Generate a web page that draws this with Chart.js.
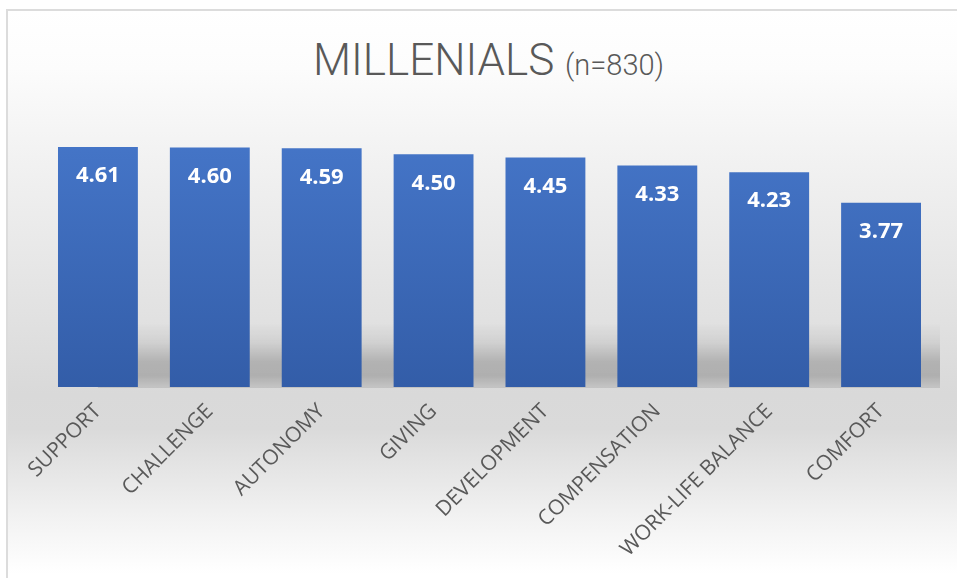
<!DOCTYPE html>
<html>
<head>
<meta charset="utf-8">
<script src="https://cdn.jsdelivr.net/npm/chart.js@4"></script>
<style>
  html, body { margin: 0; padding: 0; background: #fff; }
  #wrap {
    position: relative; width: 957px; height: 578px; overflow: hidden;
  }
  #frame {
    position: absolute; left: 6px; top: 9px; width: 960px; height: 580px;
    border-left: 2px solid #dcdcdc; border-top: 2px solid #dcdcdc;
    background: linear-gradient(to bottom, #ffffff 0%, #fcfcfc 10%, #f2f2f2 25%, #e3e3e3 50%, #d9d9d9 66%, #dadada 72%, #f3f3f3 88%, #ffffff 97%);
  }
  #title {
    position: absolute; left: 10px; top: 35px; width: 957px; text-align: center;
    font-family: Roboto, "Open Sans", sans-serif; font-weight: 300; color: #595959;
    font-size: 44px; line-height: 50px;
  }
  #title span { font-size: 29px; }
  canvas { position: absolute; left: 0; top: 0; }
</style>
</head>
<body>
<div id="wrap">
  <div id="frame"></div>
  <div id="title">MILLENIALS <span>(n=830)</span></div>
  <canvas id="chart" width="957" height="578"></canvas>
</div>
<script>
  // ========== DATA ==========
  const categories = ['SUPPORT', 'CHALLENGE', 'AUTONOMY', 'GIVING', 'DEVELOPMENT', 'COMPENSATION', 'WORK-LIFE BALANCE', 'COMFORT'];
  const scores = [4.61, 4.60, 4.59, 4.50, 4.45, 4.33, 4.23, 3.77];
  const axisMin = 1;
  const axisMax = 5;

  // soft grey shadow behind the bar bases
  const shadowPlugin = {
    id: 'barShadow',
    beforeDatasetsDraw(chart) {
      const bars = chart.getDatasetMeta(0).data;
      const ctx = chart.ctx;
      const bottom = chart.chartArea.bottom;
      const x0 = bars[0].x;
      const x1 = bars[bars.length - 1].x + bars[0].width / 2 + 19;
      const top = bottom - 64;
      const g = ctx.createLinearGradient(0, top, 0, bottom);
      g.addColorStop(0, 'rgba(0,0,0,0)');
      g.addColorStop(0.3, 'rgba(0,0,0,0.06)');
      g.addColorStop(0.6, 'rgba(0,0,0,0.19)');
      g.addColorStop(0.82, 'rgba(0,0,0,0.2)');
      g.addColorStop(1, 'rgba(0,0,0,0.1)');
      ctx.save();
      ctx.fillStyle = g;
      ctx.fillRect(x0, top, x1 - x0, bottom - top + 1);
      ctx.restore();
    }
  };

  // white value labels inside the top of each bar
  const valueLabels = {
    id: 'valueLabels',
    afterDatasetsDraw(chart) {
      const ctx = chart.ctx;
      const bars = chart.getDatasetMeta(0).data;
      ctx.save();
      ctx.fillStyle = '#ffffff';
      ctx.font = 'bold 22px "Open Sans", sans-serif';
      ctx.textAlign = 'center';
      ctx.textBaseline = 'middle';
      bars.forEach((bar, i) => {
        ctx.fillText(scores[i].toFixed(2), bar.x, bar.y + 29);
      });
      ctx.restore();
    }
  };

  const ctx = document.getElementById('chart').getContext('2d');
  new Chart(ctx, {
    type: 'bar',
    data: {
      labels: categories,
      datasets: [{
        data: scores,
        backgroundColor: (c) => {
          const area = c.chart.chartArea;
          if (!area) return '#3f6cbb';
          const g = c.chart.ctx.createLinearGradient(0, area.top, 0, area.bottom);
          g.addColorStop(0, '#4677ca');
          g.addColorStop(1, '#335da8');
          return g;
        },
        borderWidth: 0,
        categoryPercentage: 1,
        barPercentage: 0.714
      }]
    },
    options: {
      responsive: false,
      animation: false,
      layout: { padding: { left: 42, right: 20, top: 121, bottom: 0 } },
      plugins: {
        legend: { display: false },
        tooltip: { enabled: false },
        title: { display: false }
      },
      scales: {
        y: {
          display: false,
          min: axisMin,
          max: axisMax
        },
        x: {
          grid: { display: false, drawTicks: false },
          border: { display: false },
          ticks: {
            color: '#595959',
            font: { family: '"Open Sans", sans-serif', size: 21 },
            minRotation: 45,
            maxRotation: 45,
            padding: 12
          },
          afterFit(scale) {
            scale.height = 191;
            scale.paddingLeft = 0;
            scale.paddingRight = 0;
          }
        }
      }
    },
    plugins: [shadowPlugin, valueLabels]
  });
</script>
</body>
</html>
